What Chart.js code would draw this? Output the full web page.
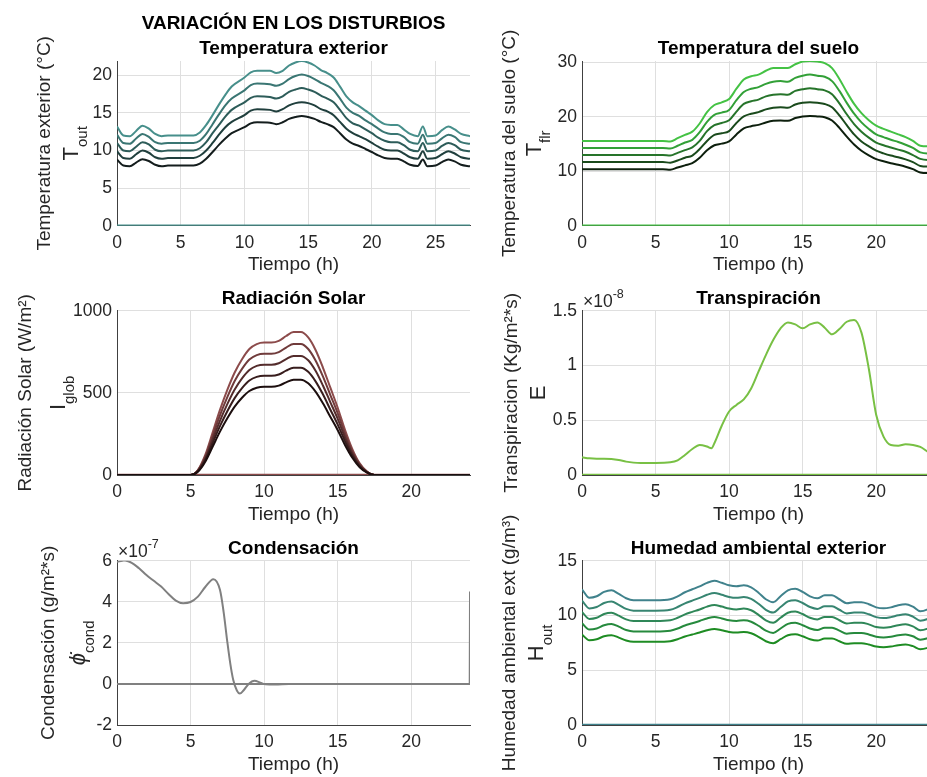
<!DOCTYPE html>
<html lang="es">
<head>
<meta charset="utf-8">
<title>Variación en los disturbios</title>
<script src="https://cdn.jsdelivr.net/npm/chart.js@4/dist/chart.umd.min.js"></script>
<style>
  html, body { margin: 0; padding: 0; background: #ffffff; }
  body { position: relative; width: 927px; height: 777px; overflow: hidden; }
  canvas { position: absolute; }
</style>
</head>
<body>
<canvas id="tout"></canvas>
<canvas id="tflr"></canvas>
<canvas id="iglob"></canvas>
<canvas id="transp"></canvas>
<canvas id="cond"></canvas>
<canvas id="hout"></canvas>
<script>
// Temperatura exterior (°C), five disturbance levels
const hoursTout = [0,0.5,1,1.5,2,2.5,3,3.5,4,5,6,6.5,7,7.5,8,8.5,9,10,10.5,11,12,12.5,13,13.5,14,14.5,15,15.5,16,16.5,17,17.5,18,18.5,19,19.5,20,20.5,21,21.5,22,22.5,23,23.6,24,24.35,25,25.5,26,26.5,27,27.7];
const tOut1 = [8.8,8.0,7.9,8.4,8.85,8.6,8.1,7.9,8.0,8.0,8.0,8.25,8.9,9.8,10.75,11.6,12.3,13.1,13.6,13.75,13.7,13.5,13.75,14.2,14.45,14.6,14.45,14.2,13.8,13.5,13.1,12.3,11.45,10.9,10.6,10.2,9.8,9.35,9.0,8.9,8.9,8.55,8.1,7.95,8.8,7.9,8.0,8.45,8.8,8.55,8.1,7.9];
const tOut2 = [9.9,9.0,8.9,9.5,10.0,9.7,9.1,8.9,9.0,9.0,9.0,9.3,10.0,11.0,12.1,13.1,13.8,14.7,15.3,15.5,15.4,15.2,15.5,16.0,16.3,16.4,16.3,16.0,15.5,15.2,14.7,13.8,12.9,12.3,11.9,11.5,11.0,10.5,10.1,10.0,10.0,9.6,9.1,8.9,9.9,8.9,9.0,9.5,9.9,9.6,9.1,8.9];
const tOut3 = [11.0,10.0,9.9,10.5,11.1,10.8,10.1,9.9,10.0,10.0,10.0,10.3,11.1,12.3,13.4,14.5,15.4,16.4,17.0,17.2,17.1,16.9,17.2,17.8,18.1,18.3,18.1,17.8,17.3,16.9,16.4,15.4,14.3,13.6,13.3,12.8,12.3,11.7,11.3,11.1,11.1,10.7,10.1,9.9,11.0,9.9,10.0,10.6,11.0,10.7,10.1,9.9];
const tOut4 = [12.1,11.0,10.9,11.6,12.2,11.8,11.1,10.9,11.0,11.0,11.0,11.3,12.2,13.5,14.8,16.0,16.9,18.0,18.7,18.9,18.8,18.6,18.9,19.5,19.9,20.1,19.9,19.5,19.0,18.6,18.0,16.9,15.7,15.0,14.6,14.0,13.5,12.9,12.4,12.2,12.2,11.8,11.1,10.9,12.1,10.9,11.0,11.6,12.1,11.8,11.1,10.9];
const tOut5 = [13.2,12.0,11.9,12.6,13.3,12.9,12.2,11.9,12.0,12.0,12.0,12.4,13.4,14.7,16.1,17.4,18.5,19.7,20.4,20.6,20.6,20.3,20.6,21.3,21.7,21.9,21.7,21.3,20.7,20.3,19.7,18.5,17.2,16.4,15.9,15.3,14.7,14.0,13.5,13.4,13.4,12.8,12.2,11.9,13.2,11.9,12.0,12.7,13.2,12.8,12.2,11.9];
const toutZeroHours = [0, 27.7];
const toutZero = [0, 0];

// Temperatura del suelo (°C)
const hoursTflr = [0,2,4,5,5.5,6,6.5,7,7.5,8,8.5,9,9.5,10,10.5,11,11.5,12,12.5,13,13.5,14,14.5,15,15.5,16,16.5,17,17.5,18,18.5,19,19.5,20,20.5,21,21.5,22,22.5,23,23.5,24];
const tFlr1 = [10.4,10.4,10.4,10.4,10.4,10.3,10.7,11.1,11.5,12.5,13.9,14.8,15.1,15.5,16.8,17.9,18.3,18.55,19.0,19.3,19.35,19.3,19.8,20.1,20.2,20.1,19.95,19.35,18.0,16.4,14.95,13.8,12.95,12.25,11.85,11.5,11.2,10.85,10.4,9.8,9.7,9.7];
const tFlr2 = [11.7,11.7,11.7,11.7,11.7,11.6,12.0,12.5,12.9,14.1,15.6,16.7,17.0,17.4,18.9,20.1,20.6,20.9,21.4,21.7,21.8,21.7,22.3,22.6,22.7,22.6,22.4,21.8,20.3,18.5,16.8,15.5,14.6,13.8,13.3,12.9,12.6,12.2,11.7,11.0,10.9,10.9];
const tFlr3 = [13.0,13.0,13.0,13.0,13.0,12.9,13.4,13.9,14.4,15.6,17.4,18.5,18.9,19.4,21.0,22.4,22.9,23.2,23.8,24.1,24.2,24.1,24.8,25.1,25.3,25.1,24.9,24.2,22.5,20.5,18.7,17.3,16.2,15.3,14.8,14.4,14.0,13.6,13.0,12.3,12.1,12.1];
const tFlr4 = [14.3,14.3,14.3,14.3,14.3,14.2,14.7,15.3,15.8,17.2,19.1,20.4,20.8,21.3,23.1,24.6,25.2,25.5,26.1,26.5,26.6,26.5,27.2,27.6,27.8,27.6,27.4,26.6,24.8,22.6,20.6,19.0,17.8,16.8,16.3,15.8,15.4,14.9,14.3,13.5,13.3,13.3];
const tFlr5 = [15.6,15.6,15.6,15.6,15.6,15.5,16.1,16.7,17.3,18.8,20.9,22.2,22.7,23.3,25.2,26.9,27.5,27.8,28.5,29.0,29.0,29.0,29.7,30.2,30.3,30.2,29.9,29.0,27.0,24.6,22.4,20.7,19.4,18.4,17.8,17.3,16.8,16.3,15.6,14.7,14.6,14.6];
const dayZeroHours = [0, 24];
const dayZero = [0, 0];

// Radiación solar (W/m2)
const hoursIglob = [0,4,5,5.5,6,6.5,7,7.5,8,8.5,9,9.5,10,10.5,11,11.5,12,12.5,13,13.5,14,14.5,15,15.5,16,16.5,17,17.5,18,24];
const iGlob1 = [0,0,0,20,81,172,264,345,416,470,511,531,537,537,544,564,580,580,558,507,436,355,274,183,105,47,14,0,0,0];
const iGlob2 = [0,0,0,23,91,194,297,388,468,529,575,597,604,604,612,635,653,653,628,570,491,399,308,206,118,53,16,0,0,0];
const iGlob3 = [0,0,0,25,101,215,330,431,520,588,639,664,671,671,680,705,725,725,698,634,545,444,343,229,131,59,18,0,0,0];
const iGlob4 = [0,0,0,28,111,237,363,474,572,646,703,730,738,738,748,776,798,798,767,697,600,488,377,252,144,65,19,0,0,0];
const iGlob5 = [0,0,0,30,122,258,396,518,624,705,767,797,806,806,816,846,870,870,837,761,654,533,411,275,158,71,21,0,0,0];

// Transpiración, in units of 1e-8 Kg/m2*s
const hoursTransp = [0,0.5,1,1.5,2,2.5,3,3.5,4,5,6,6.5,7,7.5,8,8.5,8.8,9,9.5,10,10.5,11,11.5,12,12.5,13,13.5,14,14.5,15,15.5,16,16.5,17,17.5,18,18.5,19,19.5,20,20.5,21,21.5,22,22.5,23,23.5,24];
const transp = [0.161,0.152,0.149,0.149,0.146,0.137,0.122,0.113,0.110,0.110,0.116,0.134,0.183,0.237,0.274,0.26,0.245,0.29,0.45,0.58,0.64,0.69,0.79,0.943,1.095,1.232,1.339,1.393,1.375,1.339,1.375,1.393,1.345,1.284,1.333,1.399,1.415,1.3,0.97,0.55,0.35,0.274,0.268,0.28,0.274,0.256,0.213,0.17];

// Condensación, in units of 1e-7 g/m2*s
const hoursCond = [0,0.5,1,1.5,2,2.5,3,3.5,4,4.5,5,5.5,6,6.55,7,7.25,7.5,7.7,7.9,8.15,8.35,8.6,8.95,9.35,9.75,10.1,10.75,11.7,23.98,24];
const cond = [5.94,6.02,5.9,5.63,5.3,5.02,4.74,4.38,4.06,3.93,3.99,4.25,4.72,5.1,4.58,3.5,2.05,1.0,0.2,-0.32,-0.47,-0.32,0,0.15,0.06,-0.02,-0.03,0,0,4.5];

// Humedad ambiental exterior (g/m3)
const hoursHout = [0,0.5,1,1.5,2,2.5,3,3.5,4,5,6,6.5,7,7.5,8,8.5,9,9.5,10,10.5,11,11.5,12,12.5,13,13.5,14,14.5,15,15.5,16,16.5,17,17.5,18,18.5,19,19.5,20,20.5,21,21.5,22,22.5,23,23.5,24];
const hOut1 = [8.26,7.74,7.83,8.1,8.2,7.98,7.71,7.59,7.59,7.59,7.65,7.83,8.08,8.26,8.44,8.65,8.77,8.65,8.5,8.44,8.5,8.38,8.05,7.65,7.47,7.83,8.2,8.29,8.1,7.83,7.71,7.89,7.89,7.65,7.41,7.47,7.47,7.35,7.16,7.1,7.16,7.29,7.35,7.2,6.92,7.04,7.3];
const hOut2 = [9.29,8.71,8.81,9.11,9.23,8.98,8.67,8.54,8.54,8.54,8.61,8.81,9.09,9.29,9.5,9.73,9.87,9.73,9.56,9.5,9.56,9.43,9.06,8.61,8.4,8.81,9.23,9.33,9.11,8.81,8.67,8.88,8.88,8.61,8.34,8.4,8.4,8.27,8.06,7.99,8.06,8.2,8.27,8.1,7.79,7.92,8.21];
const hOut3 = [10.33,9.68,9.79,10.13,10.25,9.98,9.64,9.49,9.49,9.49,9.56,9.79,10.1,10.33,10.55,10.81,10.96,10.81,10.63,10.55,10.63,10.48,10.06,9.56,9.34,9.79,10.25,10.36,10.13,9.79,9.64,9.86,9.86,9.56,9.26,9.34,9.34,9.19,8.95,8.88,8.95,9.11,9.19,9.0,8.65,8.8,9.13];
const hOut4 = [11.36,10.64,10.77,11.14,11.28,10.97,10.6,10.44,10.44,10.44,10.52,10.77,11.11,11.36,11.61,11.89,12.06,11.89,11.69,11.61,11.69,11.52,11.07,10.52,10.27,10.77,11.28,11.4,11.14,10.77,10.6,10.85,10.85,10.52,10.19,10.27,10.27,10.11,9.85,9.76,9.85,10.02,10.11,9.9,9.52,9.68,10.04];
const hOut5 = [12.39,11.61,11.75,12.15,12.3,11.97,11.57,11.39,11.39,11.39,11.48,11.75,12.12,12.39,12.66,12.98,13.16,12.98,12.75,12.66,12.75,12.57,12.08,11.48,11.21,11.75,12.3,12.44,12.15,11.75,11.57,11.84,11.84,11.48,11.12,11.21,11.21,11.03,10.74,10.65,10.74,10.94,11.03,10.8,10.38,10.56,10.95];

// line colours, darkest level first
const toutColors = ['#141d1d', '#203f3d', '#2d5c59', '#3a7673', '#478f8b'];
const tflrColors = ['#0d1f0d', '#1a4a1c', '#26742a', '#32a037', '#44c244'];
const iglobColors = ['#1c0e0e', '#381d1d', '#542c2c', '#703b3b', '#8c4b4b'];
const houtColors = ['#1e8c23', '#268a3d', '#2f8758', '#378571', '#40828c'];
const transpColor = '#78c044';
const condColor = '#808080';

const FONT = "'Liberation Sans', Arial, Helvetica, sans-serif";
const INK = '#262626';
const GRID = '#dfdfdf';
const Y_AXIS_W = 45;
const X_AXIS_H = 52;

Chart.defaults.font.family = FONT;
Chart.defaults.color = INK;

function line(hours, values, color, width) {
  return {
    data: hours.map((h, i) => ({ x: h, y: values[i] })),
    borderColor: color,
    borderWidth: width || 2,
    pointRadius: 0,
    fill: false,
    cubicInterpolationMode: 'monotone'
  };
}

// rotated y label (name + symbol with subscript) and the ×10^n factor
const axisText = {
  id: 'axisText',
  afterDraw(chart, _args, o) {
    const { ctx, chartArea: a } = chart;
    const midY = (a.top + a.bottom) / 2;

    ctx.save();
    ctx.fillStyle = INK;
    ctx.textAlign = 'center';
    ctx.textBaseline = 'middle';
    ctx.translate(a.left + o.nameX, midY);
    ctx.rotate(-Math.PI / 2);
    ctx.font = `19px ${FONT}`;
    ctx.fillText(o.name, 0, 0);
    ctx.restore();

    ctx.save();
    ctx.fillStyle = INK;
    ctx.translate(a.left + o.symX, midY);
    ctx.rotate(-Math.PI / 2);
    const bigFont = `${o.italic ? 'italic ' : ''}22px ${FONT}`;
    const subFont = `15px ${FONT}`;
    ctx.font = bigFont;
    const wBig = ctx.measureText(o.sym).width;
    ctx.font = subFont;
    const wSub = o.sub ? ctx.measureText(o.sub).width : 0;
    const x0 = -(wBig + wSub) / 2;
    ctx.textAlign = 'left';
    ctx.textBaseline = 'alphabetic';
    ctx.font = bigFont;
    ctx.fillText(o.sym, x0, 8);
    if (o.sub) {
      ctx.font = subFont;
      ctx.fillText(o.sub, x0 + wBig, 17);
    }
    ctx.restore();

    if (o.exp) {
      ctx.save();
      ctx.fillStyle = INK;
      ctx.textAlign = 'left';
      ctx.textBaseline = 'middle';
      ctx.font = `17.5px ${FONT}`;
      const base = '\u00d710';
      ctx.fillText(base, a.left + 1, a.top - 8.7);
      const w = ctx.measureText(base).width;
      ctx.font = `12.5px ${FONT}`;
      ctx.fillText(o.exp, a.left + 1 + w, a.top - 16.5);
      ctx.restore();
    }
  }
};

function panel(id, frame, spec) {
  const cv = document.getElementById(id);
  cv.width = frame.w;
  cv.height = frame.h;
  cv.style.left = frame.x + 'px';
  cv.style.top = frame.y + 'px';
  const [L, T, R, B] = frame.area;
  const lines = Array.isArray(spec.title) ? spec.title.length : 1;
  const lh = spec.titleLineHeight || 1.2;
  const padBottom = lines > 1 ? 0 : 0.8;
  const titleH = lines * 19 * lh + padBottom;

  return new Chart(cv, {
    type: 'line',
    data: { datasets: spec.datasets },
    options: {
      responsive: false,
      animation: false,
      events: [],
      devicePixelRatio: 1,
      layout: {
        padding: { left: L - Y_AXIS_W, right: frame.w - R, top: T - titleH, bottom: frame.h - B - X_AXIS_H }
      },
      plugins: {
        legend: { display: false },
        tooltip: { enabled: false },
        title: {
          display: true,
          text: spec.title,
          fullSize: false,
          color: '#000000',
          font: { size: 19, weight: 'bold', lineHeight: lh },
          padding: { top: 0, bottom: padBottom }
        },
        axisText: spec.label
      },
      scales: {
        x: {
          type: 'linear',
          min: 0,
          max: spec.xMax,
          ticks: { stepSize: 5, includeBounds: false, padding: 7, maxRotation: 0, color: INK, font: { size: 17.5 } },
          grid: { color: GRID, drawTicks: false },
          border: { display: true, color: '#404040', width: 1 },
          title: { display: true, text: 'Tiempo (h)', color: INK, font: { size: 19, lineHeight: 1.2 }, padding: { top: 0, bottom: 1.1 } },
          afterFit(s) { s.height = X_AXIS_H; }
        },
        y: {
          min: spec.yMin,
          max: spec.yMax,
          ticks: {
            stepSize: spec.yStep,
            includeBounds: false,
            padding: 5,
            color: INK,
            font: { size: 17.5 },
            callback: v => String(Math.round(v * 1000) / 1000)
          },
          grid: { color: GRID, drawTicks: false },
          border: { display: true, color: '#404040', width: 1 },
          afterFit(s) { s.width = Y_AXIS_W; }
        }
      }
    },
    plugins: [axisText]
  });
}

panel('tout', { x: 0, y: 0, w: 480, h: 280, area: [117, 61, 470, 225.7] }, {
  title: ['VARIACIÓN EN LOS DISTURBIOS', 'Temperatura exterior'],
  titleLineHeight: 1.32,
  xMax: 27.7, yMin: 0, yMax: 21.9, yStep: 5,
  datasets: [tOut1, tOut2, tOut3, tOut4, tOut5].map((v, i) => line(hoursTout, v, toutColors[i]))
    .concat([line(toutZeroHours, toutZero, toutColors[4], 2.5)]),
  label: { name: 'Temperatura exterior (°C)', sym: 'T', sub: 'out', nameX: -72, symX: -47 }
});

panel('tflr', { x: 470, y: 0, w: 470, h: 280, area: [112, 61, 465, 225.7] }, {
  title: 'Temperatura del suelo',
  xMax: 24, yMin: 0, yMax: 30.3, yStep: 10,
  datasets: [tFlr1, tFlr2, tFlr3, tFlr4, tFlr5].map((v, i) => line(hoursTflr, v, tflrColors[i]))
    .concat([line(dayZeroHours, dayZero, tflrColors[4], 2.5)]),
  label: { name: 'Temperatura del suelo (°C)', sym: 'T', sub: 'flr', nameX: -72, symX: -49 }
});

panel('iglob', { x: 0, y: 265, w: 480, h: 265, area: [117, 45.7, 470, 210] }, {
  title: 'Radiación Solar',
  xMax: 24, yMin: 0, yMax: 1000, yStep: 500,
  datasets: [iGlob1, iGlob2, iGlob3, iGlob4, iGlob5].map((v, i) => line(hoursIglob, v, iglobColors[i]))
    .concat([line(dayZeroHours, dayZero, iglobColors[4], 2.5)]),
  label: { name: 'Radiación Solar (W/m²)', sym: 'I', sub: 'glob', nameX: -91, symX: -60 }
});

panel('transp', { x: 470, y: 265, w: 470, h: 265, area: [112, 45.7, 465, 210] }, {
  title: 'Transpiración',
  xMax: 24, yMin: 0, yMax: 1.5, yStep: 0.5,
  datasets: [line(hoursTransp, transp, transpColor), line(dayZeroHours, dayZero, transpColor, 2.5)],
  label: { name: 'Transpiracion (Kg/m²*s)', sym: 'E', sub: '', nameX: -70, symX: -45, exp: '-8' }
});

panel('cond', { x: 0, y: 500, w: 480, h: 277, area: [117, 60.7, 470, 225] }, {
  title: 'Condensación',
  xMax: 24, yMin: -2, yMax: 6, yStep: 2,
  datasets: [line(hoursCond, cond, condColor), line(dayZeroHours, dayZero, condColor, 2)],
  label: { name: 'Condensación (g/m²*s)', sym: '\u03d5\u0307', sub: 'cond', nameX: -68.5, symX: -40, italic: true, exp: '-7' }
});

panel('hout', { x: 470, y: 500, w: 470, h: 277, area: [112, 60.7, 465, 225] }, {
  title: 'Humedad ambiental exterior',
  xMax: 24, yMin: 0, yMax: 15, yStep: 5,
  datasets: [hOut1, hOut2, hOut3, hOut4, hOut5].map((v, i) => line(hoursHout, v, houtColors[i]))
    .concat([line(dayZeroHours, dayZero, houtColors[4], 2.5)]),
  label: { name: 'Humedad ambiental ext (g/m³)', sym: 'H', sub: 'out', nameX: -72, symX: -47 }
});
</script>
</body>
</html>
